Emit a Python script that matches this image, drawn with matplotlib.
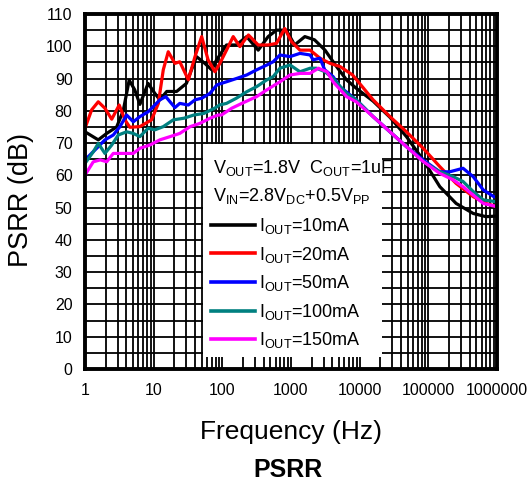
import numpy as np
import matplotlib
matplotlib.use("Agg")
import matplotlib.pyplot as plt
from matplotlib.patches import Rectangle
from matplotlib.lines import Line2D
from matplotlib.ticker import LogLocator, MultipleLocator, FixedLocator, NullFormatter

plt.rcParams['font.family'] = ['Liberation Sans', 'DejaVu Sans']
plt.rcParams['mathtext.fontset'] = 'custom'
plt.rcParams['mathtext.rm'] = 'Liberation Sans'
plt.rcParams['mathtext.it'] = 'Liberation Sans'

# ---- data ----
f_10mA = [1.0, 1.56, 2.07, 2.89, 3.6, 4.4, 5.3, 6.3, 8.3, 10.4, 12.3, 15.5, 21.6, 30, 42, 55.6, 70, 82,
          115, 160, 226, 333, 465, 616, 855, 1130, 1590, 2200, 3130, 4610, 6430, 8900, 15700, 27600,
          48000, 84000, 147000, 254000, 450000, 690000, 1000000]
db_10mA = [73.5, 71, 73, 75, 80, 89.5, 86.5, 82, 88.5, 85.4, 83.4, 86, 86, 88.5, 96.8, 94.7, 92.7, 95.7,
           100.4, 100.4, 103, 98.8, 103, 105, 105, 100.4, 103, 102, 98.8, 93.7, 89.6, 87, 83, 78,
           72, 64.8, 56.5, 51.3, 48.2, 47.2, 47.4]

f_20mA = [1.0, 1.25, 1.56, 1.95, 2.45, 3.15, 3.82, 4.5, 6.3, 9.3, 11.7, 13.8, 16.3, 20.4, 24, 32, 40, 50,
          62, 78, 92, 115, 144, 180, 240, 333, 465, 616, 810, 1020, 1350, 1900, 2640, 3700, 5200,
          7900, 15700, 27600, 48000, 84000, 147000, 254000, 450000, 690000, 1000000]
db_20mA = [74.6, 80.3, 82.8, 80.8, 77.4, 81.8, 77.2, 74.9, 75.1, 77.2, 82.3, 92.7, 98.3, 94.7, 95.2, 89.6,
           96.8, 103, 95.8, 92.1, 94.7, 98.8, 103, 99.9, 103.5, 100.4, 100.4, 100.9, 105.5, 101.4, 98.8,
           98.8, 96.3, 94.7, 93.7, 91.1, 83.4, 78.2, 73.5, 68.4, 62.7, 57.5, 53.4, 51.3, 50.3]

f_50mA = [1.0, 1.48, 1.95, 2.58, 3.23, 4.04, 5.05, 6.3, 8.3, 10.4, 12.3, 15, 17.3, 20.4, 24, 32, 40, 50,
          66, 83, 97, 115, 160, 226, 316, 445, 550, 690, 970, 1350, 1900, 2100, 2640, 3100, 4100,
          5130, 8900, 15700, 27600, 48000, 84000, 147000, 205000, 320000, 450000, 630000, 900000]
db_50mA = [64.8, 68.4, 71, 72.5, 75.1, 78.7, 76.6, 78.2, 79.7, 81.8, 83.4, 84.4, 82.8, 81, 82.3, 81.8,
           83.4, 83.9, 85.4, 88, 88.5, 89, 90, 91.1, 92.7, 94.2, 95.2, 97.3, 96.8, 97.8, 97.3, 95.8,
           96.3, 92.7, 90.6, 87.5, 83.4, 78.2, 73.5, 68.9, 64.8, 61.1, 61.1, 62.2, 59.6, 55.5, 53.4]

f_100mA = [1.0, 1.32, 1.56, 1.95, 2.45, 3.05, 4.04, 5.05, 6.3, 8.3, 10.4, 13.8, 19.3, 27.5, 38.5, 54,
           77, 91, 115, 160, 226, 316, 445, 550, 690, 970, 1350, 1900, 2350, 3130, 4100, 6430,
           8900, 15700, 27600, 48000, 84000, 147000, 230000, 320000, 450000, 630000, 1000000]
db_100mA = [63.7, 67.3, 69.9, 66.8, 69.4, 72.5, 73.5, 73, 72, 74.6, 74.1, 75.1, 77.2, 77.7, 78.7, 79.2,
            80.8, 81.8, 82.3, 83.9, 85.9, 87.5, 89.6, 90.6, 93.2, 94.2, 92.1, 93.2, 93.2, 92.1, 90,
            85.4, 83.4, 78.2, 73.5, 68.9, 64.3, 61.1, 59.6, 58.1, 55, 52.4, 51.8]

f_150mA = [1.0, 1.32, 1.67, 2.07, 2.58, 3.6, 5.05, 6.3, 8.8, 12.3, 17.3, 24, 34, 47, 66, 87, 97, 137,
           192, 316, 445, 690, 970, 1350, 1900, 2510, 3350, 4100, 6430, 8900, 15700, 27600, 48000,
           84000, 147000, 230000, 320000, 450000, 630000, 1000000]
db_150mA = [60.1, 64.2, 64.8, 64.2, 66.8, 66.8, 66.8, 68.4, 69.4, 71, 72, 73, 75.1, 76.1, 77.7, 78.7,
            78.7, 80.8, 82.3, 84.4, 86.5, 89, 91.1, 91.6, 91.6, 93.2, 92.1, 89, 84.4, 82.8, 78.2,
            73.5, 68.9, 64.3, 60.6, 58.6, 56.5, 53.9, 51.3, 50.3]

series = [
    (f_10mA, db_10mA, '#000000', '10mA'),
    (f_20mA, db_20mA, '#ff0000', '20mA'),
    (f_50mA, db_50mA, '#0000ff', '50mA'),
    (f_100mA, db_100mA, '#008080', '100mA'),
    (f_150mA, db_150mA, '#ff00ff', '150mA'),
]

x_ticks = [1, 10, 100, 1000, 10000, 100000, 1000000]
x_ticklabels = ['1', '10', '100', '1000', '10000', '100000', '1000000']
y_ticks = list(range(0, 111, 10))

# ---- figure ----
W, H = 531, 490
fig = plt.figure(figsize=(W / 100, H / 100), dpi=100)
L, R, T, B = 85, 497, 14, 369
ax = fig.add_axes([L / W, 1 - B / H, (R - L) / W, (B - T) / H])

ax.set_xscale('log')
ax.set_xlim(1, 1e6)
ax.set_ylim(0, 110)

ax.xaxis.set_major_locator(FixedLocator(x_ticks))
ax.set_xticklabels(x_ticklabels)
ax.xaxis.set_minor_locator(LogLocator(base=10, subs=np.arange(2, 10), numticks=20))
ax.xaxis.set_minor_formatter(NullFormatter())
ax.yaxis.set_major_locator(FixedLocator(y_ticks))
ax.yaxis.set_minor_locator(MultipleLocator(5))

ax.grid(True, which='both', color='black', linewidth=1.3, zorder=0)
ax.set_axisbelow(True)
ax.tick_params(which='both', direction='in', length=0, labelsize=11.5, colors='black')
ax.tick_params(axis='x', pad=10)
ax.tick_params(axis='y', pad=9)

for sp in ax.spines.values():
    sp.set_linewidth(2.8)
    sp.set_zorder(10)

for f, d, c, lab in series:
    ax.plot(f, d, color=c, linewidth=2.3, zorder=3, solid_joinstyle='round')

# legend box
ax.add_patch(Rectangle((0.286, 0.034), 0.436, 0.6, transform=ax.transAxes,
                       facecolor='white', edgecolor='none', zorder=5))
ax.text(0.31, 0.552, r'V$_{\mathregular{OUT}}$=1.8V  C$_{\mathregular{OUT}}$=1uF', transform=ax.transAxes,
        fontsize=13, va='baseline', ha='left', zorder=6)
ax.text(0.31, 0.474, r'V$_{\mathregular{IN}}$=2.8V$_{\mathregular{DC}}$+0.5V$_{\mathregular{PP}}$',
        transform=ax.transAxes, fontsize=13, va='baseline', ha='left', zorder=6)
line_y = [0.406, 0.326, 0.244, 0.164, 0.084]
text_y = [0.389, 0.308, 0.227, 0.147, 0.068]
for (f, d, c, lab), ly, ty in zip(series, line_y, text_y):
    ax.add_line(Line2D([0.307, 0.413], [ly, ly], transform=ax.transAxes, color=c,
                       linewidth=2.6, zorder=6))
    ax.text(0.422, ty, r'I$_{\mathregular{OUT}}$=' + lab, transform=ax.transAxes, fontsize=13,
            va='baseline', ha='left', zorder=6)

ax.set_ylabel('PSRR (dB)', fontsize=19.5)
ax.yaxis.set_label_coords(-0.124, 0.476)
fig.text((L + R) / 2 / W, 1 - 432 / H, 'Frequency (Hz)', fontsize=19, ha='center', va='center')
fig.text((L + R) / 2 / W - 0.005, 1 - 470 / H, 'PSRR', fontsize=18, fontweight='bold', ha='center', va='center')

fig.savefig('out.png', dpi=100)
